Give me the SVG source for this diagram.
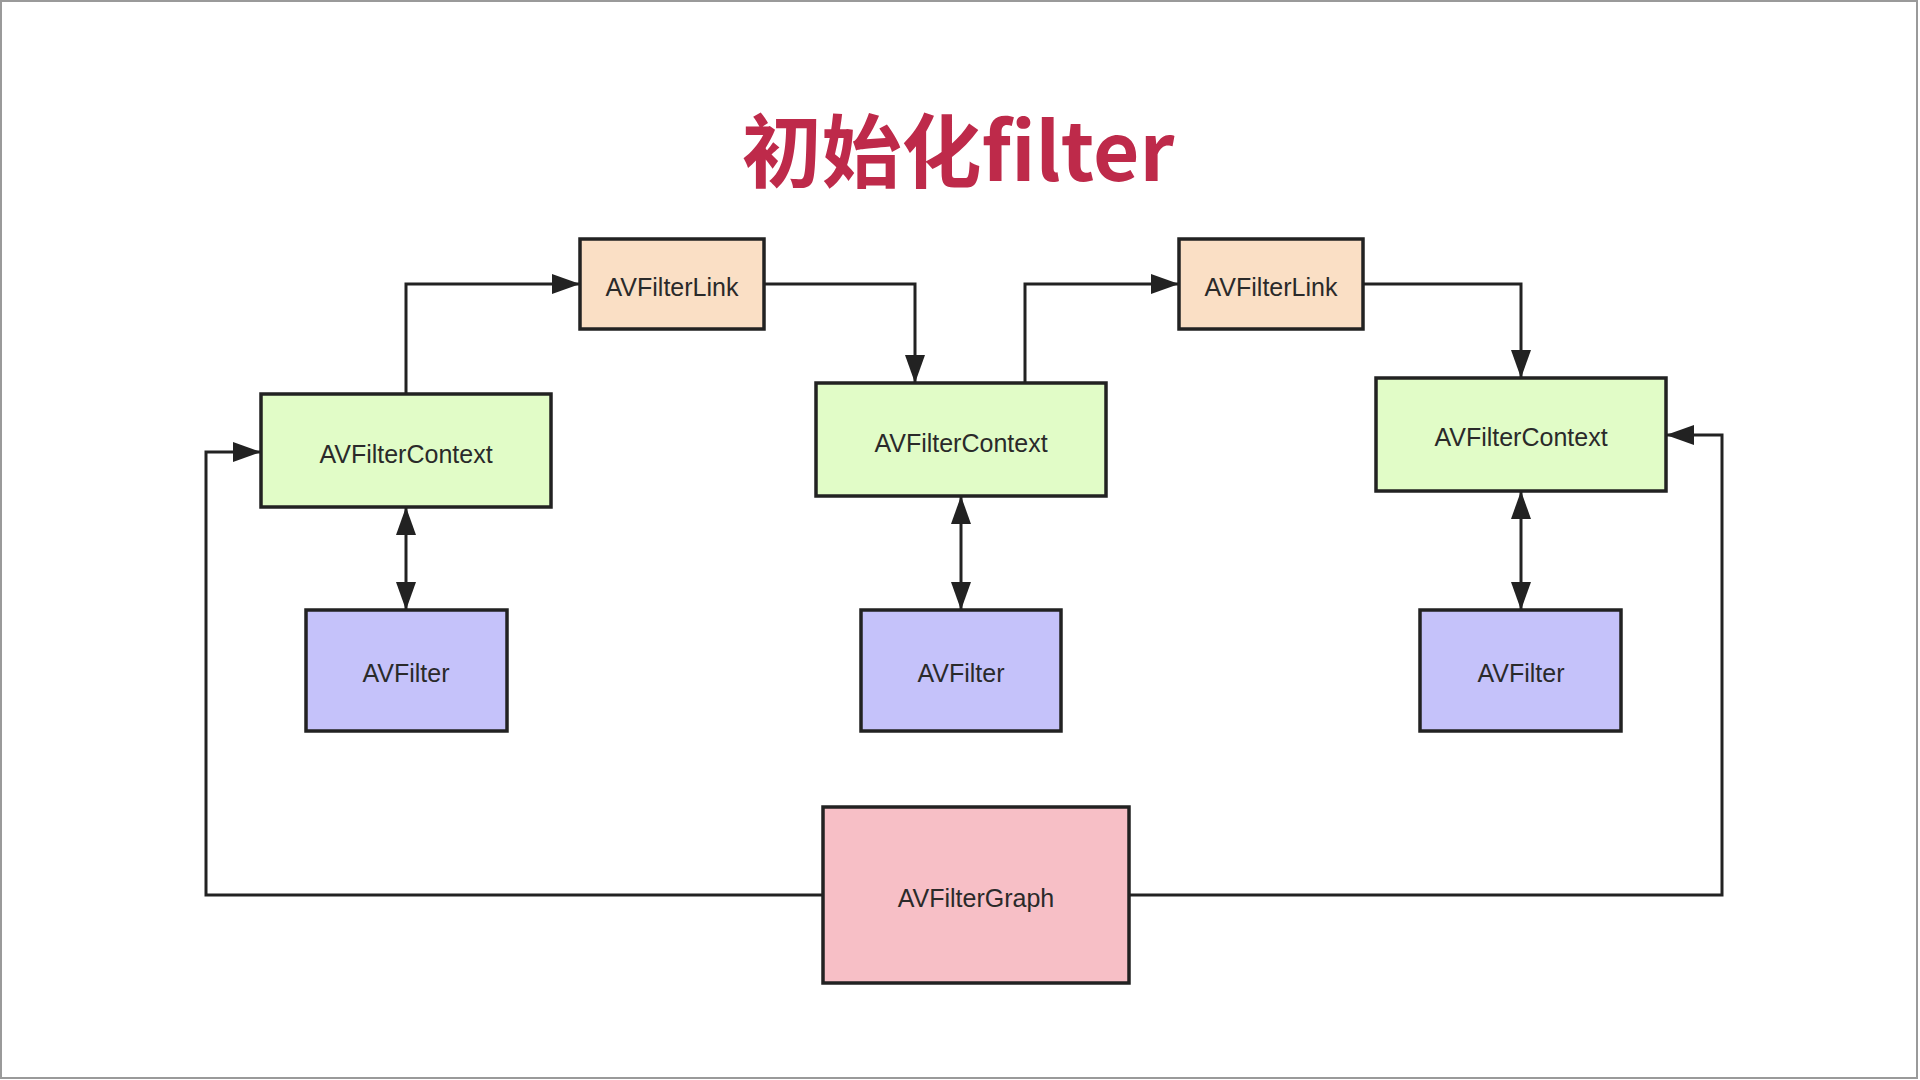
<svg xmlns="http://www.w3.org/2000/svg" width="1920" height="1080" viewBox="0 0 1920 1080">
<style>
.box{stroke:#222;stroke-width:3.5}
.link{fill:#FADFC5}
.ctx{fill:#E1FCC7}
.flt{fill:#C5C2FA}
.graph{fill:#F7BFC6}
.lbl{font-family:"Liberation Sans",Arial,sans-serif;font-size:25px;fill:#2a2a2a;text-anchor:middle}
.conn{fill:none;stroke:#222;stroke-width:3}
.title{font-family:"Noto Sans CJK SC","Noto Sans",sans-serif;font-weight:bold;font-size:80px;fill:#BE2A4A;text-anchor:middle}
</style>
<defs>
<marker id="arr" markerUnits="userSpaceOnUse" markerWidth="30" markerHeight="22" refX="28" refY="10" orient="auto-start-reverse">
<path d="M0,0 L28,10 L0,20 z" fill="#222"/>
</marker>
</defs>
<rect x="0" y="0" width="1920" height="1080" fill="#ffffff"/>
<rect x="1" y="1" width="1916" height="1077" fill="none" stroke="#9a9a9a" stroke-width="2"/>
<text id="title" class="title" x="958" y="181">初始化filter</text>
<g id="connectors">
<path class="conn" d="M406,394 V284 H580" marker-end="url(#arr)"/>
<path class="conn" d="M764,284 H915 V383" marker-end="url(#arr)"/>
<path class="conn" d="M1025,383 V284 H1179" marker-end="url(#arr)"/>
<path class="conn" d="M1363,284 H1521 V378" marker-end="url(#arr)"/>
<path class="conn" d="M406,507 V610" marker-start="url(#arr)" marker-end="url(#arr)"/>
<path class="conn" d="M961,496 V610" marker-start="url(#arr)" marker-end="url(#arr)"/>
<path class="conn" d="M1521,491 V610" marker-start="url(#arr)" marker-end="url(#arr)"/>
<path class="conn" d="M823,895 H206 V452 H261" marker-end="url(#arr)"/>
<path class="conn" d="M1129,895 H1722 V435 H1666" marker-end="url(#arr)"/>
</g>
<g id="link1"><rect class="box link" x="580" y="239" width="184" height="90"/><text class="lbl" x="672" y="296">AVFilterLink</text></g>
<g id="link2"><rect class="box link" x="1179" y="239" width="184" height="90"/><text class="lbl" x="1271" y="296">AVFilterLink</text></g>
<g id="ctx1"><rect class="box ctx" x="261" y="394" width="290" height="113"/><text class="lbl" x="406" y="463">AVFilterContext</text></g>
<g id="ctx2"><rect class="box ctx" x="816" y="383" width="290" height="113"/><text class="lbl" x="961" y="452">AVFilterContext</text></g>
<g id="ctx3"><rect class="box ctx" x="1376" y="378" width="290" height="113"/><text class="lbl" x="1521" y="446">AVFilterContext</text></g>
<g id="filter1"><rect class="box flt" x="306" y="610" width="201" height="121"/><text class="lbl" x="406" y="682">AVFilter</text></g>
<g id="filter2"><rect class="box flt" x="861" y="610" width="200" height="121"/><text class="lbl" x="961" y="682">AVFilter</text></g>
<g id="filter3"><rect class="box flt" x="1420" y="610" width="201" height="121"/><text class="lbl" x="1521" y="682">AVFilter</text></g>
<g id="graph"><rect class="box graph" x="823" y="807" width="306" height="176"/><text class="lbl" x="976" y="907">AVFilterGraph</text></g>
</svg>
